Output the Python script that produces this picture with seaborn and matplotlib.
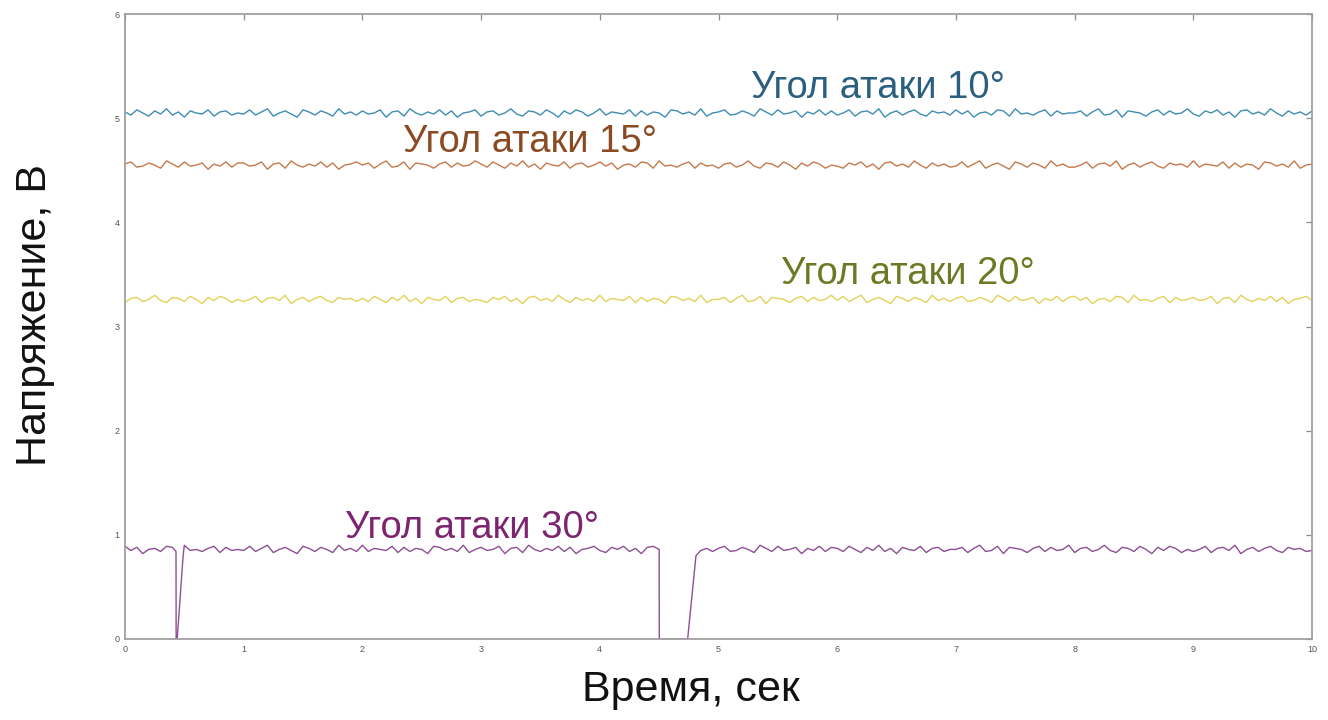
import numpy as np
import pandas as pd
import matplotlib
matplotlib.use("Agg")
import matplotlib.pyplot as plt
import seaborn as sns

# ---- data ----
time_step = 0.05
v10 = [5.06,5.03,5.08,5.05,5.02,5.07,5.04,5.09,5.03,5.06,5.01,5.07,5.05,5.04,5.08,5.02,5.06,5.07,5.03,5.05,
       5.04,5.08,5.03,5.06,5.09,5.02,5.05,5.07,5.04,5.01,5.08,5.06,5.03,5.07,5.05,5.02,5.09,5.04,5.06,5.03,
       5.07,5.04,5.05,5.08,5.01,5.06,5.07,5.02,5.09,5.05,5.03,5.06,5.04,5.08,5.03,5.07,5.01,5.05,5.06,5.08,
       5.02,5.06,5.07,5.03,5.05,5.09,5.04,5.02,5.07,5.06,5.03,5.08,5.05,5.01,5.07,5.04,5.08,5.06,5.02,5.05,
       5.09,5.03,5.06,5.05,5.04,5.08,5.02,5.07,5.03,5.06,5.05,5.01,5.08,5.07,5.04,5.06,5.03,5.09,5.02,5.05,
       5.06,5.08,5.03,5.04,5.07,5.05,5.02,5.09,5.06,5.03,5.08,5.04,5.05,5.07,5.01,5.06,5.04,5.08,5.03,5.07,
       5.03,5.05,5.08,5.02,5.06,5.07,5.04,5.09,5.01,5.05,5.07,5.03,5.06,5.08,5.04,5.02,5.07,5.05,5.06,5.03,
       5.08,5.04,5.07,5.01,5.05,5.06,5.03,5.08,5.07,5.02,5.09,5.04,5.05,5.03,5.06,5.08,5.02,5.07,5.04,5.05,
       5.05,5.07,5.02,5.06,5.09,5.03,5.04,5.08,5.01,5.07,5.06,5.05,5.02,5.06,5.08,5.03,5.07,5.04,5.05,5.09,
       5.04,5.02,5.07,5.05,5.08,5.03,5.06,5.01,5.07,5.08,5.04,5.06,5.03,5.09,5.05,5.02,5.07,5.04,5.06,5.03,
       5.07]
v15 = [4.56,4.58,4.53,4.54,4.57,4.55,4.52,4.59,4.56,4.53,4.58,4.54,4.55,4.57,4.51,4.56,4.54,4.58,4.53,4.57,
       4.57,4.54,4.55,4.58,4.51,4.56,4.57,4.52,4.59,4.55,4.53,4.56,4.54,4.58,4.53,4.57,4.51,4.55,4.56,4.58,
       4.55,4.57,4.52,4.56,4.59,4.53,4.54,4.58,4.51,4.57,4.56,4.55,4.52,4.56,4.58,4.53,4.57,4.54,4.55,4.59,
       4.56,4.53,4.58,4.55,4.52,4.57,4.54,4.59,4.53,4.56,4.51,4.57,4.55,4.54,4.58,4.52,4.56,4.57,4.53,4.55,
       4.58,4.54,4.57,4.51,4.55,4.56,4.53,4.58,4.57,4.52,4.59,4.54,4.55,4.53,4.56,4.58,4.52,4.57,4.54,4.55,
       4.52,4.56,4.57,4.53,4.55,4.59,4.54,4.52,4.57,4.56,4.53,4.58,4.55,4.51,4.57,4.54,4.58,4.56,4.52,4.55,
       4.54,4.52,4.57,4.55,4.58,4.53,4.56,4.51,4.57,4.58,4.54,4.56,4.53,4.59,4.55,4.52,4.57,4.54,4.56,4.53,
       4.54,4.58,4.53,4.56,4.59,4.52,4.55,4.57,4.54,4.51,4.58,4.56,4.53,4.57,4.55,4.52,4.59,4.54,4.56,4.53,
       4.53,4.55,4.58,4.52,4.56,4.57,4.54,4.59,4.51,4.55,4.57,4.53,4.56,4.58,4.54,4.52,4.57,4.55,4.56,4.53,
       4.59,4.53,4.56,4.55,4.54,4.58,4.52,4.57,4.53,4.56,4.55,4.51,4.58,4.57,4.54,4.56,4.53,4.59,4.52,4.55,
       4.56]
v20 = [3.23,3.27,3.28,3.24,3.26,3.30,3.25,3.23,3.28,3.27,3.24,3.29,3.26,3.22,3.28,3.25,3.29,3.27,3.23,3.26,
       3.24,3.26,3.29,3.23,3.27,3.28,3.25,3.30,3.22,3.26,3.28,3.24,3.27,3.29,3.25,3.23,3.28,3.26,3.27,3.24,
       3.27,3.24,3.29,3.26,3.23,3.28,3.25,3.30,3.24,3.27,3.22,3.28,3.26,3.25,3.29,3.23,3.27,3.28,3.24,3.26,
       3.25,3.23,3.28,3.26,3.29,3.24,3.27,3.22,3.28,3.29,3.25,3.27,3.24,3.30,3.26,3.23,3.28,3.25,3.27,3.24,
       3.30,3.24,3.27,3.26,3.25,3.29,3.23,3.28,3.24,3.27,3.26,3.22,3.29,3.28,3.25,3.27,3.24,3.30,3.23,3.26,
       3.26,3.28,3.23,3.27,3.30,3.24,3.25,3.29,3.22,3.28,3.27,3.26,3.23,3.27,3.29,3.24,3.28,3.25,3.26,3.30,
       3.25,3.29,3.24,3.27,3.30,3.23,3.26,3.28,3.25,3.22,3.29,3.27,3.24,3.28,3.26,3.23,3.30,3.25,3.27,3.24,
       3.27,3.29,3.24,3.25,3.28,3.26,3.23,3.30,3.27,3.24,3.29,3.25,3.26,3.28,3.22,3.27,3.25,3.29,3.24,3.28,
       3.29,3.25,3.28,3.22,3.26,3.27,3.24,3.29,3.28,3.23,3.30,3.25,3.26,3.24,3.27,3.29,3.23,3.28,3.25,3.26,
       3.28,3.25,3.26,3.29,3.22,3.27,3.28,3.23,3.30,3.26,3.24,3.27,3.25,3.29,3.24,3.28,3.22,3.26,3.27,3.29,
       3.25]
v30 = [0.89,0.85,0.88,0.82,0.86,0.87,0.84,0.89,0.88,0.83,0.90,0.85,0.86,0.84,0.87,0.89,0.83,0.88,0.85,0.86,
       0.85,0.89,0.84,0.87,0.90,0.83,0.86,0.88,0.85,0.82,0.89,0.87,0.84,0.88,0.86,0.83,0.90,0.85,0.87,0.84,
       0.90,0.84,0.87,0.86,0.85,0.89,0.83,0.88,0.84,0.87,0.86,0.82,0.89,0.88,0.85,0.87,0.84,0.90,0.83,0.86,
       0.88,0.85,0.86,0.89,0.82,0.87,0.88,0.83,0.90,0.86,0.84,0.87,0.85,0.89,0.84,0.88,0.82,0.86,0.87,0.89,
       0.85,0.83,0.88,0.86,0.89,0.84,0.87,0.82,0.88,0.89,0.85,0.87,0.84,0.90,0.86,0.83,0.88,0.85,0.87,0.84,
       0.87,0.89,0.84,0.85,0.88,0.86,0.83,0.90,0.87,0.84,0.89,0.85,0.86,0.88,0.82,0.87,0.85,0.89,0.84,0.88,
       0.87,0.84,0.89,0.86,0.83,0.88,0.85,0.90,0.84,0.87,0.82,0.88,0.86,0.85,0.89,0.83,0.87,0.88,0.84,0.86,
       0.86,0.88,0.83,0.87,0.90,0.84,0.85,0.89,0.82,0.88,0.87,0.86,0.83,0.87,0.89,0.84,0.88,0.85,0.86,0.90,
       0.83,0.87,0.88,0.84,0.86,0.90,0.85,0.83,0.88,0.87,0.84,0.89,0.86,0.82,0.88,0.85,0.89,0.87,0.83,0.86,
       0.84,0.86,0.89,0.83,0.87,0.88,0.85,0.90,0.82,0.86,0.88,0.84,0.87,0.89,0.85,0.83,0.88,0.86,0.87,0.84,
       0.85]
# signal dropouts on the 30° curve
dip_t = [0.43, 0.431, 0.44, 0.49, 4.50, 4.501, 4.74, 4.81]
dip_v = [0.84, 0.00, 0.00, 0.80, 0.86, 0.00, 0.00, 0.80]
dip_windows = [(0.43, 0.49), (4.50, 4.81)]

labels = ["Угол атаки 10°", "Угол атаки 15°", "Угол атаки 20°", "Угол атаки 30°"]
label_x = [5.27, 2.34, 5.53, 1.85]
label_y = [5.29, 4.77, 3.50, 1.07]
line_colors = ["#3f8db3", "#c47a4c", "#e3d15a", "#8c4f93"]
text_colors = ["#2b5f80", "#8a4a22", "#6c7a24", "#7c2470"]

x_ticks = list(range(0, 11))
y_ticks = list(range(0, 7))

# ---- build frames ----
t = np.round(np.arange(len(v10)) * time_step, 3)
frames = []
for name, vals in zip(labels[:3], [v10, v15, v20]):
    frames.append(pd.DataFrame({"t": t, "v": vals, "s": name}))
t30 = list(t)
v30_all = list(v30)
keep = [i for i, tt in enumerate(t30) if not any(a <= tt <= b for a, b in dip_windows)]
t30 = [t30[i] for i in keep] + dip_t
v30_all = [v30_all[i] for i in keep] + dip_v
df30 = pd.DataFrame({"t": t30, "v": v30_all, "s": labels[3]}).sort_values("t")
frames.append(df30)

# ---- plot ----
sns.set_style("white")
plt.rcParams["font.family"] = ["Liberation Sans", "DejaVu Sans"]

fig = plt.figure(figsize=(13.28, 7.2), dpi=100)
ax = fig.add_axes([0.0941, 0.1125, 0.8939, 0.868])

for df, c in zip(frames, line_colors):
    sns.lineplot(data=df, x="t", y="v", ax=ax, color=c, linewidth=1.0,
                 estimator=None, sort=False, legend=False)

for lab, lx, ly, tc in zip(labels, label_x, label_y, text_colors):
    ax.text(lx, ly, lab, color=tc, fontsize=27.5, va="center", ha="left")

ax.set_xlim(0, 10)
ax.set_ylim(0, 6)
ax.set_xticks(x_ticks)
ax.set_yticks(y_ticks)
ax.tick_params(direction="in", top=True, right=True, length=4, width=0.9,
               color="#8a8a8a", labelsize=6.5, labelcolor="#555555", pad=4)
for sp in ax.spines.values():
    sp.set_visible(True)
    sp.set_color("#a0a0a0")
    sp.set_linewidth(1.3)

ax.set_xlabel("Время, сек", fontsize=31, color="#111111")
ax.xaxis.label.set_va("center")
ax.xaxis.set_label_coords(0.477, -0.082)
ax.set_ylabel("Напряжение, В", fontsize=31, color="#111111")
ax.yaxis.label.set_va("center")
ax.yaxis.label.set_ha("center")
ax.yaxis.set_label_coords(-0.0758, 0.518)

fig.savefig("out.png", dpi=100)
